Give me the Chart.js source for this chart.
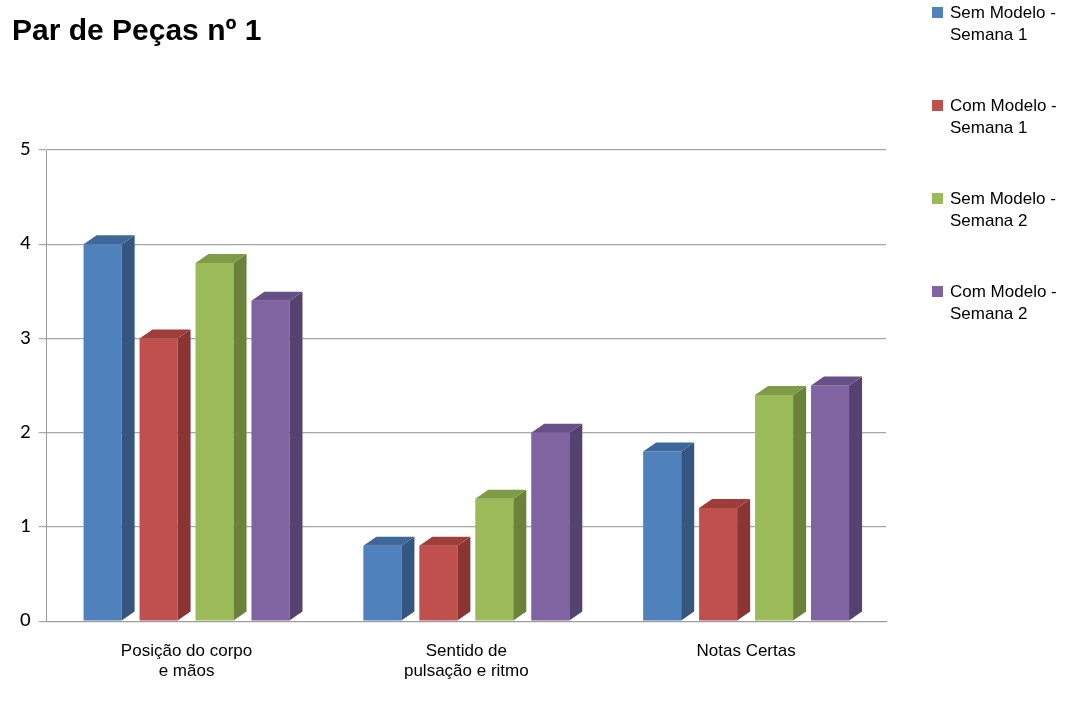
<!DOCTYPE html>
<html>
<head>
<meta charset="utf-8">
<script src="https://cdn.jsdelivr.net/npm/chart.js@4/dist/chart.umd.min.js"></script>
<style>
  body { margin: 0; background: #fff; }
  #wrap { position: relative; width: 1091px; height: 702px; }
  #legend { position: absolute; left: 932px; top: 2px; font-family: "Liberation Sans", Arial, sans-serif; font-size: 17px; color: #000; }
  .item { position: relative; height: 93px; }
  .box { position: absolute; left: 0; top: 5px; width: 11px; height: 11px; }
  .txt { position: absolute; left: 18px; top: 0; line-height: 22px; white-space: nowrap; }
</style>
</head>
<body>
<div id="wrap">
  <canvas id="barChart" width="1091" height="702"></canvas>
  <div id="legend"></div>
</div>
<script>
var categories = [['Posição do corpo', 'e mãos'], ['Sentido de', 'pulsação e ritmo'], 'Notas Certas'];
var seriesNames = ['Sem Modelo - Semana 1', 'Com Modelo - Semana 1', 'Sem Modelo - Semana 2', 'Com Modelo - Semana 2'];
var semModeloSemana1 = [4, 0.8, 1.8];
var comModeloSemana1 = [3, 0.8, 1.2];
var semModeloSemana2 = [3.8, 1.3, 2.4];
var comModeloSemana2 = [3.4, 2, 2.5];

var frontColors = ['#4F81BD', '#C0504D', '#9BBB59', '#8064A2'];
var sideColors = ['#34567F', '#8A3533', '#6A8239', '#56426F'];
var topColors = ['#3E679A', '#9E3E3B', '#7E9B45', '#674F87'];

// side + top faces, drawn from the bar elements the library laid out
var faces3d = {
    id: 'faces3d',
    afterDatasetsDraw: function (chart) {
        var ctx = chart.ctx;
        var dx = 13, dy = 9;
        ctx.save();
        chart.data.datasets.forEach(function (ds, i) {
            var meta = chart.getDatasetMeta(i);
            meta.data.forEach(function (bar) {
                var p = bar.getProps(['x', 'y', 'base', 'width'], true);
                var l = p.x - p.width / 2, r = p.x + p.width / 2;
                ctx.fillStyle = sideColors[i];
                ctx.beginPath();
                ctx.moveTo(r, p.y);
                ctx.lineTo(r + dx, p.y - dy);
                ctx.lineTo(r + dx, p.base - dy);
                ctx.lineTo(r, p.base);
                ctx.closePath();
                ctx.fill();
                ctx.fillStyle = topColors[i];
                ctx.beginPath();
                ctx.moveTo(l, p.y);
                ctx.lineTo(l + dx, p.y - dy);
                ctx.lineTo(r + dx, p.y - dy);
                ctx.lineTo(r, p.y);
                ctx.closePath();
                ctx.fill();
            });
        });
        ctx.restore();
    }
};

var values = [semModeloSemana1, comModeloSemana1, semModeloSemana2, comModeloSemana2];

var ctx = document.getElementById('barChart').getContext('2d');
var myChart = new Chart(ctx, {
    type: 'bar',
    data: {
        labels: categories,
        datasets: values.map(function (v, i) {
            return {
                label: seriesNames[i],
                data: v,
                backgroundColor: frontColors[i],
                borderWidth: 0,
                barPercentage: 0.68,
                categoryPercentage: 0.8
            };
        })
    },
    options: {
        responsive: false,
        animation: false,
        layout: { padding: { left: 12, right: 205, top: 0, bottom: 8 } },
        plugins: {
            legend: { display: false },
            tooltip: { enabled: false },
            title: {
                display: true,
                text: 'Par de Peças nº 1',
                align: 'start',
                color: '#000',
                font: { family: '"Liberation Sans", Arial, sans-serif', size: 30, weight: 'bold' },
                padding: { top: 14, bottom: 100 }
            }
        },
        scales: {
            x: {
                grid: { display: false },
                border: { color: '#9A9A9A' },
                ticks: {
                    color: '#000',
                    font: { family: '"Liberation Sans", Arial, sans-serif', size: 17 },
                    padding: 12
                }
            },
            y: {
                min: 0,
                max: 5,
                ticks: {
                    stepSize: 1,
                    color: '#000',
                    font: { family: '"Carlito", "Liberation Sans", Arial, sans-serif', size: 21 },
                    padding: 8
                },
                grid: { color: '#A6A6A6', lineWidth: 1.2, tickLength: 8 },
                border: { color: '#9A9A9A' }
            }
        }
    },
    plugins: [faces3d]
});

// legend built from the same arrays
var legend = document.getElementById('legend');
seriesNames.forEach(function (name, i) {
    var parts = name.split(' - ');
    var item = document.createElement('div');
    item.className = 'item';
    item.innerHTML = '<span class="box" style="background:' + frontColors[i] + '"></span>' +
        '<span class="txt">' + parts[0] + ' -<br>' + parts[1] + '</span>';
    legend.appendChild(item);
});
</script>
</body>
</html>
